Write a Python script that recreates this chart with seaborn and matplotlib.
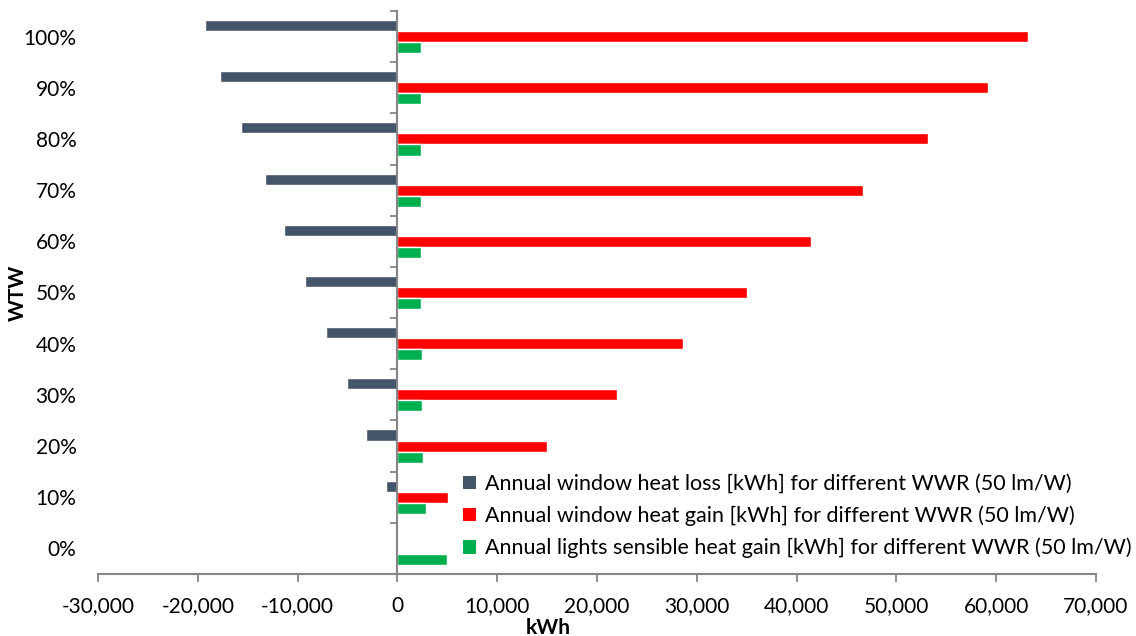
import numpy as np
import pandas as pd
import matplotlib
matplotlib.use("Agg")
import matplotlib.pyplot as plt
from matplotlib.patches import Patch
from matplotlib.ticker import FuncFormatter, FixedLocator
import seaborn as sns

# Window-to-wall ratio categories (top to bottom)
wwr = ["100%", "90%", "80%", "70%", "60%", "50%", "40%", "30%", "20%", "10%", "0%"]

# Annual energy flows in kWh per WWR
heat_loss = [-19300, -17800, -15630, -13260, -11390, -9220, -7110, -5050, -3110, -1170, 0]
heat_gain = [63170, 59200, 53190, 46680, 41470, 35060, 28650, 21970, 14990, 5040, 0]
lights_gain = [2330, 2330, 2330, 2330, 2330, 2330, 2430, 2500, 2530, 2900, 4970]

series_names = [
    "Annual window heat loss [kWh] for different WWR (50 lm/W)",
    "Annual window heat gain [kWh] for different WWR (50 lm/W)",
    "Annual lights sensible heat gain [kWh] for different WWR (50 lm/W)",
]
series_colors = ["#44546A", "#FF0000", "#00B050"]

x_ticks = [-30000, -20000, -10000, 0, 10000, 20000, 30000, 40000, 50000, 60000, 70000]

df = pd.concat(
    [
        pd.DataFrame({"WWR": wwr, "kWh": vals, "series": name})
        for name, vals in zip(series_names, [heat_loss, heat_gain, lights_gain])
    ],
    ignore_index=True,
)

sns.set_theme(style="white")
plt.rcParams["font.family"] = ["Lato", "DejaVu Sans"]

fig = plt.figure(figsize=(11.36, 6.36), dpi=100)
ax = fig.add_axes([98 / 1136, 1 - 574 / 636, 998 / 1136, (574 - 11) / 636])

sns.barplot(
    data=df, x="kWh", y="WWR", hue="series",
    order=wwr, hue_order=series_names, palette=series_colors,
    orient="h", width=0.65, saturation=1, ax=ax, legend=False,
)

ax.set_xlim(x_ticks[0], x_ticks[-1])
ax.set_ylim(len(wwr) - 0.5, -0.5)

axis_grey = "#868686"
text_col = "#000000"
fs = 15

# Vertical axis sits at zero, horizontal axis at the bottom
for side in ["top", "right"]:
    ax.spines[side].set_visible(False)
ax.spines["left"].set_position(("data", 0))
ax.spines["left"].set_color(axis_grey)
ax.spines["bottom"].set_color(axis_grey)
ax.spines["left"].set_linewidth(1.5)
ax.spines["bottom"].set_linewidth(1.5)

ax.xaxis.set_major_locator(FixedLocator(x_ticks))
ax.xaxis.set_major_formatter(FuncFormatter(lambda v, p: f"{int(v):,}"))
ax.tick_params(axis="x", direction="out", length=6, width=1.3, color=axis_grey,
               labelsize=fs, labelcolor=text_col, pad=10, bottom=True)

# Category boundaries get tick marks; labels sit at the category centres
ax.yaxis.set_major_locator(FixedLocator(np.arange(len(wwr))))
ax.yaxis.set_minor_locator(FixedLocator(np.arange(len(wwr) + 1) - 0.5))
ax.set_yticklabels(wwr)
ax.tick_params(axis="y", which="major", length=0, labelsize=fs, labelcolor=text_col,
               pad=(397 - 76) * 0.72)
ax.tick_params(axis="y", which="minor", direction="out", length=5, width=1.3,
               color=axis_grey, left=True)

ax.set_xlabel("kWh", fontsize=fs, fontweight="bold", color=text_col)
ax.xaxis.set_label_coords((548 - 98) / 998, -(618 - 574) / 563)
ax.set_ylabel("WTW", fontsize=fs, fontweight="bold", color=text_col)
ax.yaxis.set_label_coords((28 - 98) / 998, 0.5)

handles = [Patch(facecolor=c, edgecolor="none") for c in series_colors]
fig.legend(
    handles, series_names, loc="upper left",
    bbox_to_anchor=(463 / 1136, 1 - 474 / 636),
    frameon=False, fontsize=15.5, handlelength=0.6, handleheight=0.6,
    handletextpad=0.4, labelspacing=0.54, borderpad=0, borderaxespad=0,
    labelcolor=text_col,
)

fig.savefig("out.png", dpi=100)
